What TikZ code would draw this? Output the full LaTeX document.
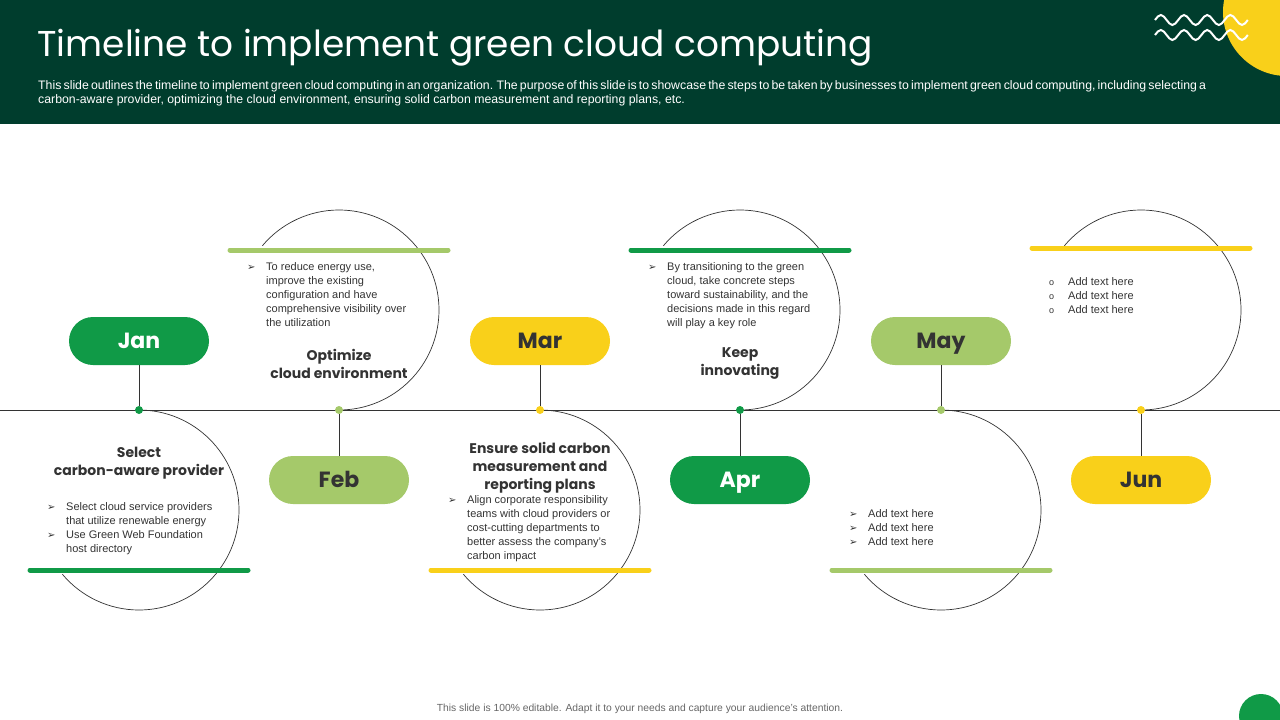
\documentclass[tikz,border=0pt]{standalone}
\usepackage{fontspec}
\setmainfont{Liberation Sans}
\newfontfamily\pop{Poppins}
\newfontfamily\dv{DejaVu Sans}
\definecolor{hdr}{HTML}{003D2D}
\definecolor{dg}{HTML}{109A47}
\definecolor{lg}{HTML}{A5C96A}
\definecolor{yl}{HTML}{F9D01A}
\definecolor{tx}{HTML}{333333}
\tikzset{
 pill/.style={rounded corners=24pt,minimum width=140pt,minimum height=48pt,inner sep=0pt,text height=15pt,text depth=0pt,font=\pop\fontsize{22}{22}\selectfont\bfseries},
 dot/.style={circle,inner sep=0pt,minimum size=8pt},
 bar/.style={line width=5pt,line cap=round},
 arcl/.style={draw=black!80,line width=0.7pt},
 body/.style={font=\fontsize{11}{14}\selectfont,text=tx,align=left,anchor=north west,inner sep=0pt},
 head/.style={font=\pop\fontsize{14}{18}\selectfont\bfseries,text=tx,align=center,inner sep=0pt},
}
\newcommand{\ar}{\makebox[19pt][l]{\dv\fontsize{10}{10}\selectfont ➢}}
\newcommand{\ob}{\makebox[19pt][l]{\fontsize{9}{9}\selectfont o}}
\begin{document}
\begin{tikzpicture}[x=1pt,y=-1pt]
\useasboundingbox (0,0) rectangle (1280,720);
\fill[hdr] (0,0) rectangle (1280,124);
\begin{scope}
\clip (0,0) rectangle (1280,124);
\fill[yl] (1287,12) circle (64);
\end{scope}
\foreach \yy in {20,35}{
\draw[white,line width=2pt] (1155,\yy) \foreach \k in {0,...,3}{ sin ++(5.8,-5) cos ++(5.8,5) sin ++(5.8,5) cos ++(5.8,-5)} ;}
\node[anchor=west,text=white,font=\pop\fontsize{35.9}{36}\selectfont] (title) at (34,48) {Timeline to implement green cloud computing};
\node[anchor=north west,text=white,font=\fontsize{12.3}{14}\selectfont,align=left,inner sep=0pt] (sub) at (38,80) {\spaceskip=2.2pt plus 1pt This slide outlines the timeline to implement green cloud computing in an organization. The purpose of this slide is to showcase the steps to be taken by businesses to implement green cloud computing, including selecting a\\carbon-aware provider, optimizing the cloud environment, ensuring solid carbon measurement and reporting plans, etc.};
\coordinate (L) at (0,410); \coordinate (R) at (1280,410);
\draw[black!80,line width=0.7pt] (L) -- (R);
% arcs
\foreach \x in {139,540,941}{ \draw[arcl] (\x,410) arc[start angle=-90,end angle=140,radius=100]; }
\foreach \x in {339,740,1141}{ \draw[arcl] (\x,410) arc[start angle=90,end angle=-140,radius=100]; }
% pills, dots
\foreach \n/\x/\y/\c/\t/\m in {jan/139/341/dg/white/Jan,feb/339/480/lg/tx/Feb,mar/540/341/yl/tx/Mar,apr/740/480/dg/white/Apr,may/941/341/lg/tx/May,jun/1141/480/yl/tx/Jun}{
 \node[pill,fill=\c,text=\t] (\n) at (\x,\y) {\m};
 \node[dot,fill=\c] (d\n) at (\x,410) {};
 \draw[black!80,line width=0.7pt] (\n) -- (d\n);
}
% bars
\draw[bar,dg] (30,570) -- (248,570);
\draw[bar,lg] (230,250) -- (448,250);
\draw[bar,yl] (431,570) -- (649,570);
\draw[bar,dg] (631,250) -- (849,250);
\draw[bar,lg] (832,570) -- (1050,570);
\draw[bar,yl] (1032,248) -- (1250,248);
% Jan
\node[head] (h1) at (139,463) {Select\\carbon-aware provider};
\node[body] (b1) at (47,502) {\ar Select cloud service providers\\\hphantom{\ar}that utilize renewable energy\\\ar Use Green Web Foundation\\\hphantom{\ar}host directory};
% Feb
\node[body] (b2) at (247,262) {\ar To reduce energy use,\\\hphantom{\ar}improve the existing\\\hphantom{\ar}configuration and have\\\hphantom{\ar}comprehensive visibility over\\\hphantom{\ar}the utilization};
\node[head] (h2) at (339,364) {Optimize\\cloud environment};
% Mar
\node[head] (h3) at (540,468) {Ensure solid carbon\\measurement and\\reporting plans};
\node[body] (b3) at (448,495) {\ar Align corporate responsibility\\\hphantom{\ar}teams with cloud providers or\\\hphantom{\ar}cost-cutting departments to\\\hphantom{\ar}better assess the company's\\\hphantom{\ar}carbon impact};
% Apr
\node[body] (b4) at (648,262) {\ar By transitioning to the green\\\hphantom{\ar}cloud, take concrete steps\\\hphantom{\ar}toward sustainability, and the\\\hphantom{\ar}decisions made in this regard\\\hphantom{\ar}will play a key role};
\node[head] (h4) at (740,364) {Keep\\innovating};
% May
\node[body] (b5) at (849,509) {\ar Add text here\\\ar Add text here\\\ar Add text here};
% Jun
\node[body] (b6) at (1049,277) {\ob Add text here\\\ob Add text here\\\ob Add text here};
\node[font=\fontsize{10.3}{10}\selectfont,text=black!60] (foot) at (640,709) {This slide is 100\% editable.  Adapt it to your needs and capture your audience's attention.};
\begin{scope}
\clip (0,0) rectangle (1280,720);
\fill[dg] (1261,716) circle (22);
\end{scope}
\end{tikzpicture}
\end{document}
